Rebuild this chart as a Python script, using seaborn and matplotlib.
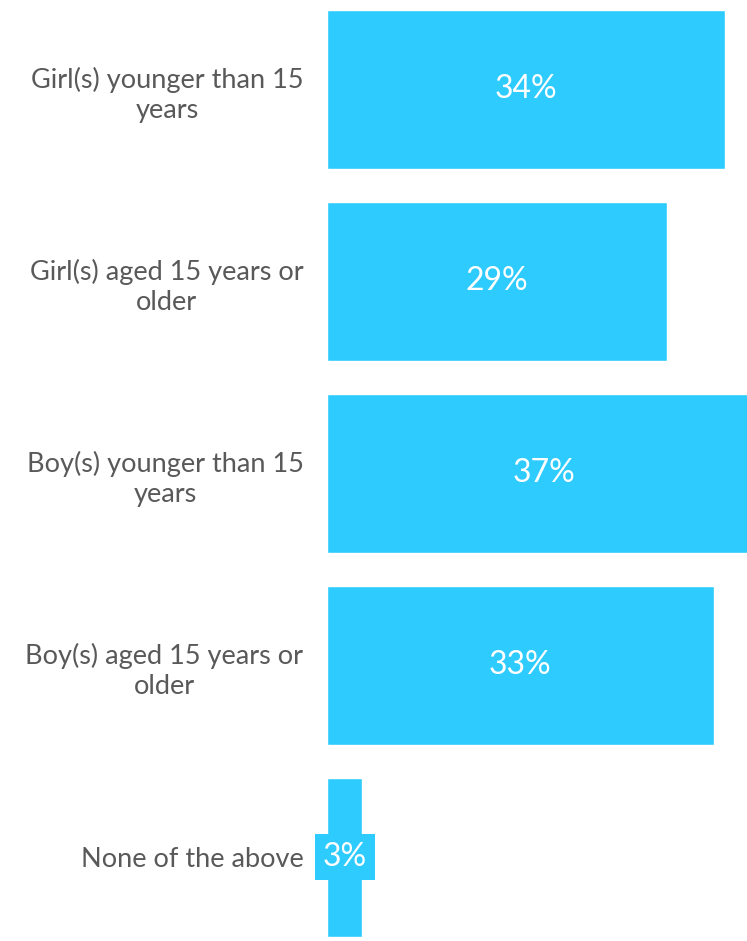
import matplotlib
matplotlib.use("Agg")
import matplotlib.pyplot as plt
import seaborn as sns
import pandas as pd

categories = [
    "Girl(s) younger than 15\nyears",
    "Girl(s) aged 15 years or\nolder",
    "Boy(s) younger than 15\nyears",
    "Boy(s) aged 15 years or\nolder",
    "None of the above",
]
values = [34, 29, 37, 33, 3]
value_labels = ["34%", "29%", "37%", "33%", "3%"]

BAR_COLOR = "#2ECBFF"
TEXT_COLOR = "#595959"

sns.set_theme(style="white")
plt.rcParams["font.family"] = ["Lato", "DejaVu Sans"]

df = pd.DataFrame({"category": categories, "value": values})

fig = plt.figure(figsize=(7.47, 9.41), dpi=100)
ax = fig.add_axes([0.4378, 0.0, 0.5622, 1.0])

sns.barplot(data=df, y="category", x="value", orient="h", color=BAR_COLOR,
            saturation=1, width=0.833, ax=ax)

ax.set_xlim(0, 35.85)
ax.set_ylim(4.435, -0.466)
ax.set_xlabel("")
ax.set_ylabel("")
ax.set_xticks([])
for spine in ax.spines.values():
    spine.set_visible(False)

ax.tick_params(axis="y", length=0, pad=17, labelsize=19.5, labelcolor=TEXT_COLOR)
for lbl in ax.get_yticklabels():
    lbl.set_multialignment("center")
    lbl.set_linespacing(1.25)

for i, (v, txt) in enumerate(zip(values, value_labels)):
    x = v / 2
    if v > 5:
        ax.text(x, i, txt, ha="center", va="center", color="white", fontsize=23)
    else:
        ax.text(x, i, txt, ha="center", va="center", color="white", fontsize=23,
                bbox=dict(facecolor=BAR_COLOR, edgecolor="none", boxstyle="square,pad=0.25"))

fig.savefig("out.png", dpi=100)
